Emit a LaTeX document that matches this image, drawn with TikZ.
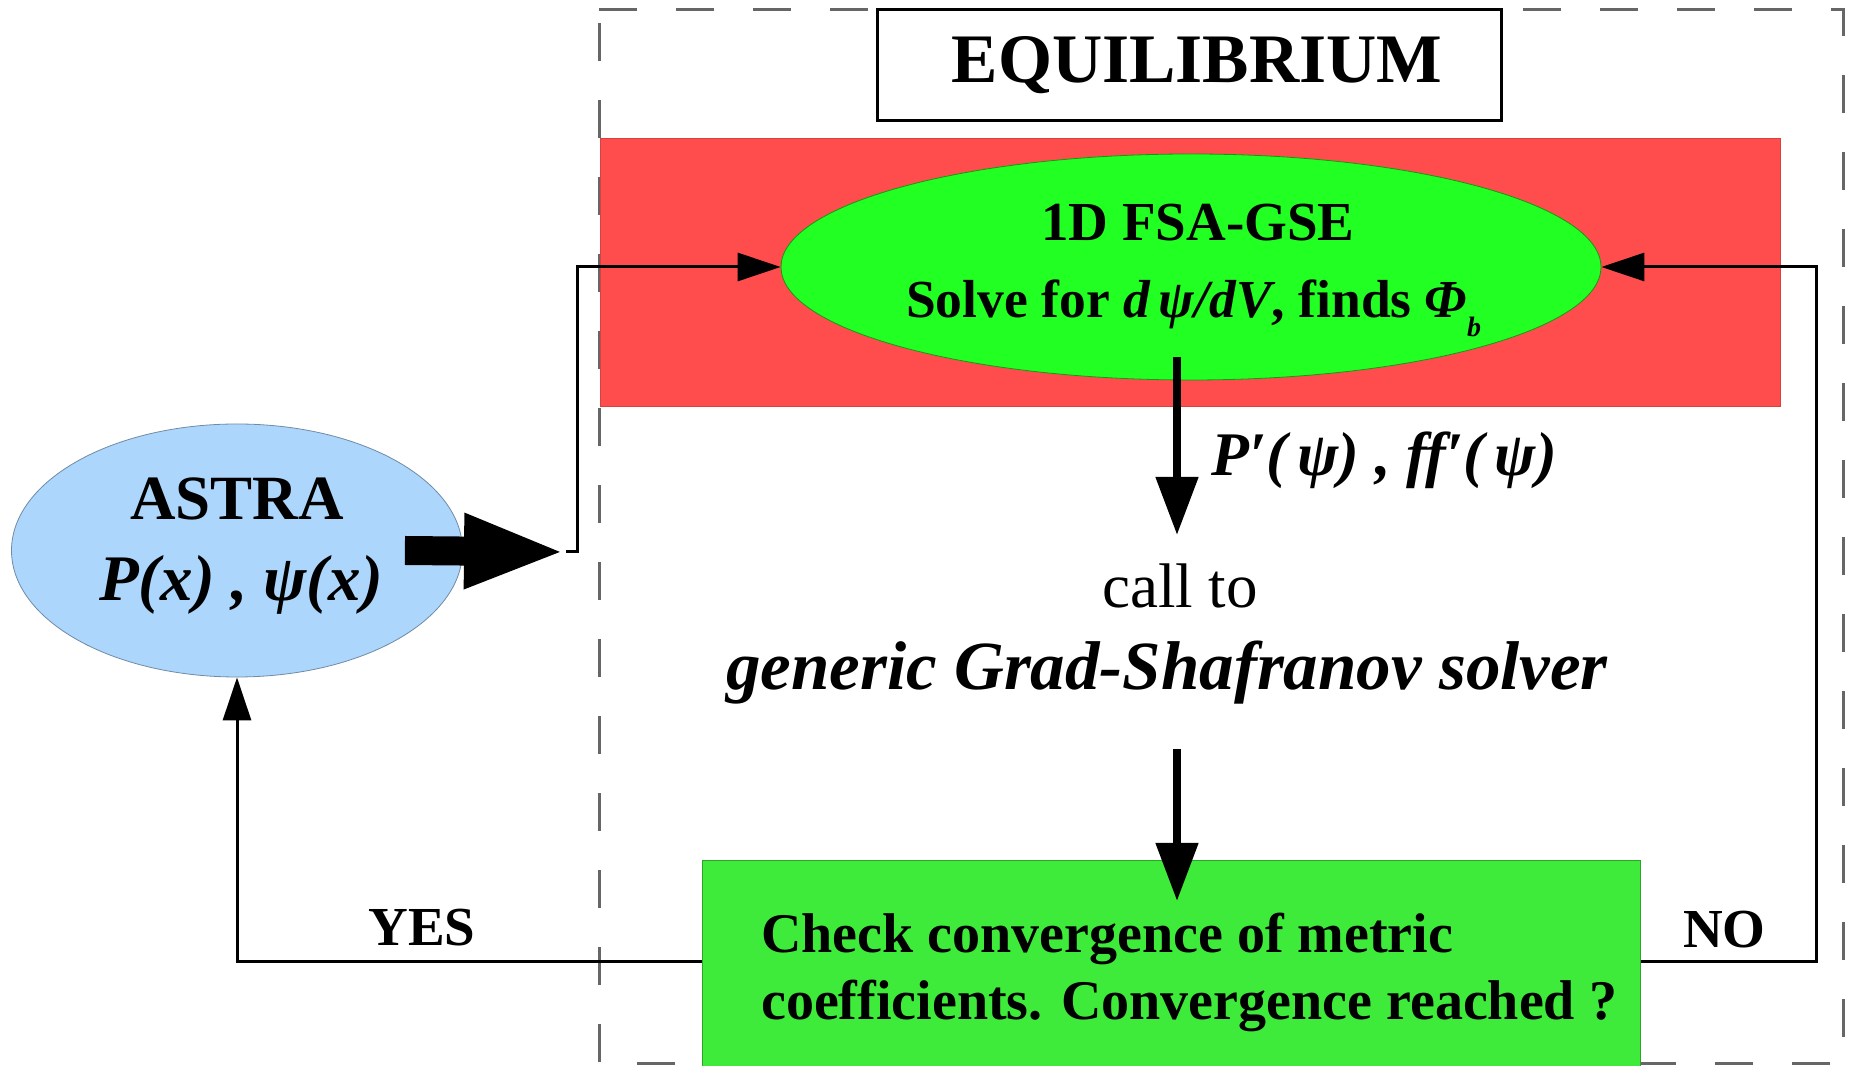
\documentclass[tikz,border=0pt]{standalone}
\usepackage{fontspec}
\setmainfont{Liberation Serif}
\usetikzlibrary{shapes.geometric,arrows.meta}

\definecolor{boxred}{RGB}{255,77,77}
\definecolor{ovalgreen}{RGB}{34,255,34}
\definecolor{boxgreen}{RGB}{62,235,58}
\definecolor{astrablue}{RGB}{173,214,253}
\definecolor{dashgray}{RGB}{102,102,102}

\newcommand{\fs}[1]{\fontsize{#1pt}{#1pt}\selectfont}

\begin{document}
\begin{tikzpicture}[x=1pt,y=1pt,
  thinflow/.style={line width=3pt, -{Triangle[length=43pt,width=28pt]}},
  bigflow/.style={line width=8pt, -{Triangle[length=58pt,width=41pt]}},
  lbl/.style={inner sep=0pt, anchor=base},
  lblw/.style={inner sep=0pt, anchor=base west},
]
\useasboundingbox (0,0) rectangle (1849,1065);
\fill[white] (0,0) rectangle (1849,1065);

% dashed frame of the equilibrium block
\draw[dashgray, line width=3pt, dash pattern=on 38pt off 39pt] (599,1055) -- (1843,1055) -- (1843,2) -- (599,2) -- cycle;

% title box
\node[draw, line width=3pt, minimum width=624pt, minimum height=111pt, inner sep=0pt] (title) at (1189,999.5) {};
\node[lbl, font=\bfseries\fs{69.5}] (titletext) at (1197,982) {EQUILIBRIUM};

% red band and the FSA-GSE oval
\node[fill=boxred, draw=boxred!85!black, line width=0.8pt, anchor=south west,
      minimum width=1180pt, minimum height=268pt, inner sep=0pt] (redbg) at (600,658) {};
\node[ellipse, fill=ovalgreen, draw=ovalgreen!60!black, line width=0.8pt,
      minimum width=820pt, minimum height=226pt, inner sep=0pt] (gse) at (1191,798) {};
\node[lbl, font=\bfseries\fs{55}] (gsetitle) at (1198,824) {1D FSA-GSE};
\node[lblw, font=\bfseries\fs{53.5}] (gsesub) at (906,747)
  {Solve for \textit{d\,ψ/dV}, finds \textit{Φ}\raisebox{-19pt}{\textit{\fs{28}b}}};

% profiles passed to the solver
\coordinate (a1s) at (1177,708);
\coordinate (a1e) at (1177,530);
\draw[bigflow] (a1s) -- (a1e);
\node[lblw, font=\bfseries\itshape\fs{62}] (plabel) at (1211,589) {P′(\,ψ) , ff′(\,ψ)};

\node[lbl, font=\fs{63}] (callto) at (1180,457) {call to};
\node[lbl, font=\bfseries\itshape\fs{69}] (solver) at (1167,375) {generic Grad-Shafranov solver};

% convergence check
\node[fill=boxgreen, draw=boxgreen!70!black, line width=0.8pt, anchor=south west,
      minimum width=938pt, minimum height=214pt, inner sep=0pt] (check) at (702,-10) {};
\node[lblw, font=\bfseries\fs{56}] (checkA) at (761,112) {Check convergence of metric};
\node[lblw, font=\bfseries\fs{56}] (checkB) at (761,45) {coefficients. Convergence reached ?};

\coordinate (a2s) at (1177,316);
\coordinate (a2e) at (1177,164);
\draw[bigflow] (a2s) -- (a2e);

% ASTRA transport code
\node[ellipse, fill=astrablue, draw=astrablue!65!black, line width=0.8pt,
      minimum width=451pt, minimum height=253pt, inner sep=0pt] (astra) at (237,514.5) {};
\node[lbl, font=\bfseries\fs{63}] (astraname) at (237,545) {ASTRA};
\node[lbl, font=\bfseries\itshape\fs{65}] (astravars) at (241,464) {P(x) , ψ(x)};

\coordinate (bigtip) at (566,513);
\coordinate (jn) at (577,513);
\draw[line width=29pt, -{Triangle[length=102pt,width=68pt]}] ([xshift=-58pt]astra.east) -- (bigtip);
\draw[thinflow] (bigtip) -- (jn) |- (gse.west);

% iteration loop
\coordinate (noturn) at (1816,0);
\coordinate (loopy) at (0,103);
\draw[thinflow] (check.east |- loopy) -| (noturn |- gse.east) -- (gse.east);
\node[lbl, font=\bfseries\fs{55}] (nolabel) at (1724.5,117) {NO};

\draw[thinflow] (check.west |- loopy) -| (astra.south);
\node[lbl, font=\bfseries\fs{55}] (yeslabel) at (422,119) {YES};
\end{tikzpicture}
\end{document}
